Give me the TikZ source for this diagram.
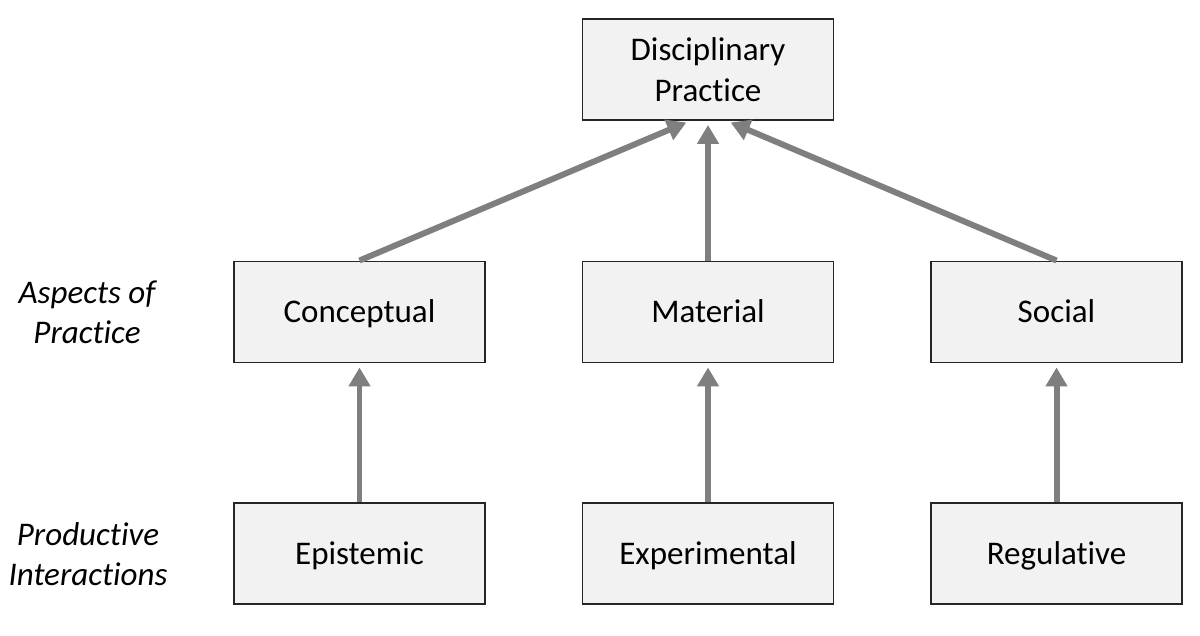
\documentclass[tikz,border=0pt]{standalone}
\usepackage{fontspec}
\setmainfont{Carlito}[Ligatures={NoCommon,NoRare}]
\usepackage{xcolor}
\usetikzlibrary{arrows.meta}
\definecolor{boxgray}{RGB}{242,242,242}
\definecolor{boxline}{RGB}{38,38,38}
\definecolor{arrowgray}{RGB}{127,127,127}
\tikzset{
  levelbox/.style={draw=boxline,line width=1.1pt,fill=boxgray,minimum width=5.02cm,minimum height=2.02cm,align=center,font=\fontsize{18.8}{23.3}\selectfont},
  onelinebox/.style={levelbox,text height=12.2pt,text depth=0pt},
  rowlabel/.style={align=center,font=\fontsize{18.8}{22.7}\selectfont\itshape},
  uparrow/.style={-{Triangle[length=0.38cm,width=0.42cm]},line width=3.4pt,draw=arrowgray,shorten >=0.08cm}
}

\begin{document}
\begin{tikzpicture}
            \useasboundingbox (0,0) rectangle (24,12.7);
            % Module boxes
            \node[levelbox] (disc) at (14.16,11.31) {Disciplinary\\Practice};
            \node[onelinebox] (conc) at (7.19,6.46) {Conceptual};
            \node[onelinebox] (mat) at (14.16,6.46) {Material};
            \node[onelinebox] (soc) at (21.13,6.46) {Social};
            \node[onelinebox] (epi) at (7.19,1.63) {Epistemic};
            \node[onelinebox] (exp) at (14.16,1.63) {Experimental};
            \node[onelinebox] (reg) at (21.13,1.63) {Regulative};

            % Row labels
            \node[rowlabel] (aspects) at (1.74,6.46) {Aspects of\\Practice};
            \node[rowlabel] (productive) at (1.76,1.62) {Productive\\Interactions};

            % Arrows
            \draw[uparrow] (conc.north) -- ([xshift=-0.36cm]disc.south);
            \draw[uparrow] (mat.north) -- (disc.south);
            \draw[uparrow] (soc.north) -- ([xshift=0.38cm]disc.south);
            \draw[uparrow] (epi.north) -- (conc.south);
            \draw[uparrow] (exp.north) -- (mat.south);
            \draw[uparrow] (reg.north) -- (soc.south);
        \end{tikzpicture}
\end{document}
